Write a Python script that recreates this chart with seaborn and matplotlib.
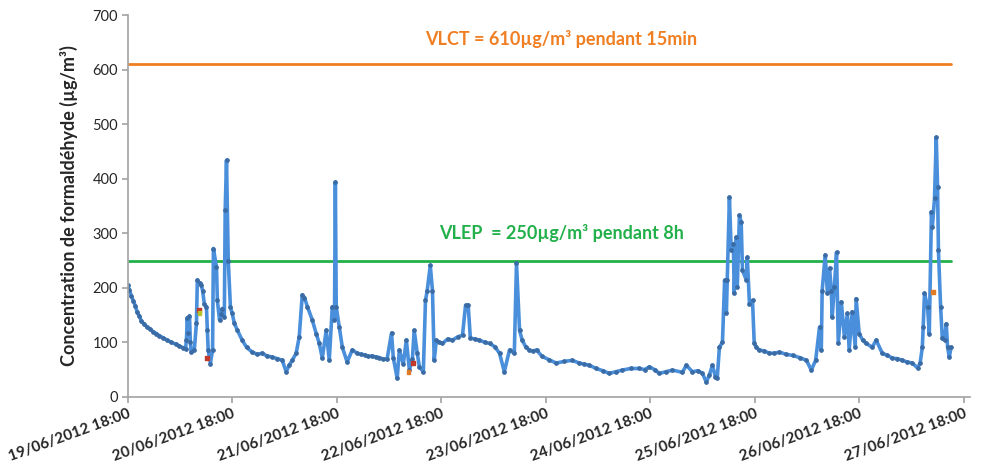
import pandas as pd
import matplotlib.pyplot as plt
import matplotlib.dates as mdates
import seaborn as sns

# ----------------------------
# Data
# ----------------------------
start = pd.Timestamp("2012-06-19 18:00")

# hours since 19/06/2012 18:00
hours = [
    0.0, 0.4, 0.85, 1.3, 1.8, 2.2, 2.7, 3.1, 3.8, 4.5, 5.2, 5.9, 6.6, 7.3, 8.2,
    9.1, 10.0, 11.0, 11.9, 12.8, 13.3, 13.5, 13.7, 13.9, 14.2, 14.4, 14.6, 15.3,
    15.8, 16.0, 16.5, 16.9, 17.2, 17.6, 18.1, 18.3, 18.5, 19.0, 19.5, 19.7, 20.4,
    20.6, 21.1, 21.5, 21.7, 22.2, 22.4, 22.7, 23.1, 23.6, 24.0, 24.5, 25.2, 26.3,
    27.3, 28.6, 29.8, 30.9, 32.0, 33.2, 34.4, 35.5, 36.4, 37.1, 37.8, 38.7, 39.4,
    40.1, 40.6, 41.3, 42.4, 43.3, 44.0, 44.7, 45.6, 46.3, 47.0, 47.5, 47.7, 47.9,
    48.6, 49.3, 50.4, 51.6, 52.7, 53.5, 54.4, 55.2, 56.0, 57.0, 57.8, 58.7, 59.6,
    60.6, 61.0, 61.9, 62.4, 63.3, 64.0, 64.7, 65.4, 65.8, 66.5, 67.0, 67.9, 68.4,
    68.8, 69.5, 70.0, 70.4, 70.9, 71.6, 72.3, 73.5, 74.6, 75.8, 76.9, 77.6, 78.2,
    78.7, 79.8, 80.8, 82.0, 83.1, 84.3, 85.4, 86.5, 87.7, 88.8, 89.3, 90.0, 90.6,
    91.4, 92.2, 93.0, 93.9, 95.2, 96.8, 98.4, 100.3, 102.1, 103.7, 104.8, 106.0,
    107.6, 109.1, 110.6, 112.1, 113.6, 115.5, 117.5, 118.7, 119.8, 121.0, 122.1,
    123.6, 125.1, 127.4, 128.3, 129.7, 131.0, 132.0, 132.9, 133.6, 134.3,
    135.0, 135.4, 135.9, 136.6, 137.1, 137.5, 137.7, 138.2, 138.6, 139.1, 139.3,
    139.8, 140.0, 140.5, 140.9, 141.2, 142.1, 142.3, 142.8, 143.5, 143.9, 144.4,
    145.0, 146.2, 147.4, 148.5, 149.7, 151.2, 152.7, 154.3, 155.9, 157.0, 158.0,
    158.9, 159.3, 159.5, 160.2, 160.7, 161.2, 161.6, 161.8, 162.3, 162.8, 163.2,
    163.9, 164.6, 165.3, 165.7, 166.4, 167.1, 167.3, 168.0, 168.8, 169.6, 171.0,
    171.9, 173.3, 174.5, 175.6, 176.8, 177.9, 179.0, 180.2, 181.4, 182.0, 182.5,
    182.7, 183.0, 183.7, 184.1, 184.6, 184.8, 185.3, 185.7, 186.0, 186.2, 186.7,
    187.1, 187.6, 188.0, 188.3, 188.7, 189.1,
]

concentration = [
    205, 196, 185, 176, 166, 155, 148, 140, 133, 128, 124, 119, 116, 112, 108,
    104, 100, 97, 93, 90, 88, 105, 145, 118, 148, 100, 82, 86,
    135, 214, 208, 205, 195, 171, 165, 122, 86, 61, 86, 272, 238,
    177, 141, 152, 162, 147, 342, 434, 250, 165, 153, 135, 122, 104,
    91, 82, 78, 80, 75, 73, 70, 67, 46, 58, 67, 80, 110,
    187, 182, 165, 141, 116, 98, 71, 122, 67, 165, 141, 394, 165,
    128, 91, 64, 86, 80, 78, 77, 74, 75, 73, 72, 69, 70,
    117, 72, 34, 86, 60, 104, 49, 70, 122, 80, 55, 46, 177,
    195, 241, 195, 67, 104, 100, 98, 106, 104, 110, 113, 168, 168,
    108, 106, 104, 100, 98, 92, 80, 46, 86, 80, 245, 122, 104,
    92, 86, 84, 86, 74, 68, 62, 65, 67, 62, 60, 58,
    52, 48, 43, 46, 49, 52, 52, 50, 55, 50, 43,
    46, 49, 45, 58, 46, 48, 43, 27, 40, 58,
    36, 34, 91, 100, 214, 153, 214, 366, 269, 281, 190,
    293, 201, 333, 320, 232, 214, 256, 171, 177, 98, 91,
    86, 84, 80, 80, 82, 78, 76, 72, 67, 49, 67,
    128, 86, 195, 260, 190, 236, 195, 146, 201, 265, 98,
    174, 110, 153, 86, 156, 91, 180, 116, 104, 98, 91,
    104, 80, 76, 71, 70, 67, 64, 62, 53, 62, 91,
    128, 190, 165, 116, 339, 311, 364, 476, 385, 269, 165,
    107, 104, 134, 91, 73, 91,
]

# Spot measurements (small coloured markers)
spot_hours = [16.3, 16.5, 18.3, 64.5, 65.6, 184.9]
spot_values = [160, 153, 72, 46, 62, 193]
spot_colors = ["#C0392B", "#B5C42A", "#C0392B", "#E07B28", "#C0392B", "#E07B28"]

# Limit values
limit_values = [610, 250]
limit_colors = ["#F07E22", "#22B04B"]
limit_labels = ["VLCT = 610µg/m³ pendant 15min", "VLEP  = 250µg/m³ pendant 8h"]
label_hours = [99.6, 99.6]
label_values = [656, 300]

df = pd.DataFrame({
    "time": start + pd.to_timedelta(hours, unit="h"),
    "value": concentration,
})

# ----------------------------
# Plot
# ----------------------------
sns.set_theme(style="white")
plt.rcParams["font.family"] = ["Lato", "DejaVu Sans"]

fig, ax = plt.subplots(figsize=(9.82, 4.73), dpi=100)
fig.subplots_adjust(left=0.130, right=0.988, top=0.968, bottom=0.161)

# limit lines span the measured period
t_first, t_last = df["time"].iloc[0], df["time"].iloc[-1]
for val, col in zip(limit_values, limit_colors):
    lim_df = pd.DataFrame({"time": [t_first, t_last], "value": [val, val]})
    sns.lineplot(data=lim_df, x="time", y="value", color=col, linewidth=2, ax=ax)

sns.lineplot(data=df, x="time", y="value", color="#4A8FDB", linewidth=2.6,
             marker="o", markersize=2.6, markerfacecolor="#3A6BA5",
             markeredgecolor="#3A6BA5", ax=ax)

spot_df = pd.DataFrame({
    "time": start + pd.to_timedelta(spot_hours, unit="h"),
    "value": spot_values,
})
ax.scatter(spot_df["time"], spot_df["value"], c=spot_colors, marker="s", s=8, zorder=4)

for txt, h, v, col in zip(limit_labels, label_hours, label_values, limit_colors):
    ax.text(start + pd.Timedelta(hours=h), v, txt, color=col, fontsize=13,
            fontweight="bold", ha="center", va="center")

# Axes
ax.set_xlim(start, start + pd.Timedelta(hours=193.5))
ax.set_ylim(0, 700)
ax.set_yticks(range(0, 701, 100))
ax.xaxis.set_major_locator(mdates.HourLocator(byhour=[18]))
ax.xaxis.set_major_formatter(mdates.DateFormatter("%d/%m/%Y %H:%M"))
plt.setp(ax.get_xticklabels(), rotation=20, ha="right", rotation_mode="anchor",
         fontweight="bold", fontsize=11)
plt.setp(ax.get_yticklabels(), fontsize=10.5)

ax.set_xlabel("")
ax.set_ylabel("Concentration de formaldéhyde (µg/m³)", fontsize=13,
              fontweight="bold", labelpad=10)

for side in ["top", "right"]:
    ax.spines[side].set_visible(False)
for side in ["left", "bottom"]:
    ax.spines[side].set_color("#A6A6A6")
ax.tick_params(axis="both", which="major", direction="out", length=4,
               color="#A6A6A6", bottom=True, left=True, pad=3)

plt.savefig("out.png", dpi=100)
plt.close()
